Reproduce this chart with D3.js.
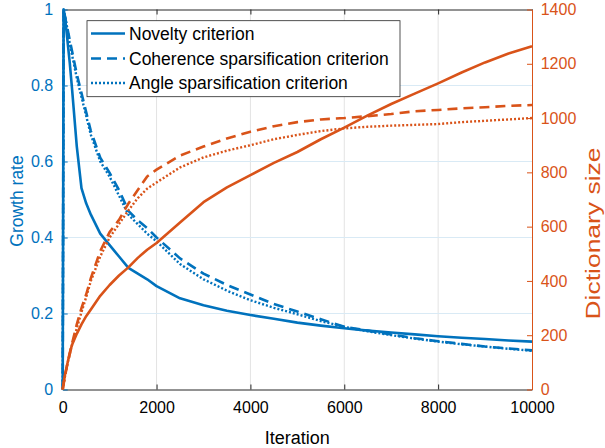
<!DOCTYPE html>
<html><head><meta charset="utf-8">
<script src="https://cdn.jsdelivr.net/npm/d3@7"></script>
<style>body{margin:0;background:#fff}svg{display:block}text{font-family:"Liberation Sans",Arial,Helvetica,sans-serif}</style>
</head><body><svg id="c" width="605" height="448"></svg>
<script>
// ---- data ----
const iterations = [0,20,50,100,150,200,300,400,500,600,800,1000,1200,1400,1600,1800,2000,2500,3000,3500,4000,4500,5000,5500,6000,6500,7000,7500,8000,8500,9000,9500,10000];
const growthNovelty   = [0,1.0,0.98,0.92,0.86,0.79,0.64,0.53,0.49,0.46,0.41,0.38,0.35,0.32,0.305,0.29,0.272,0.24,0.222,0.207,0.196,0.186,0.176,0.168,0.161,0.155,0.150,0.145,0.140,0.136,0.133,0.129,0.126];
const growthCoherence = [0,1.0,0.98,0.95,0.92,0.89,0.83,0.78,0.73,0.68,0.61,0.57,0.525,0.47,0.445,0.425,0.40,0.345,0.305,0.275,0.25,0.225,0.205,0.185,0.165,0.155,0.145,0.135,0.127,0.12,0.113,0.108,0.103];
const growthAngle     = [0,1.0,0.98,0.95,0.91,0.88,0.82,0.77,0.72,0.67,0.60,0.56,0.51,0.46,0.435,0.41,0.39,0.33,0.29,0.26,0.235,0.215,0.198,0.18,0.165,0.153,0.143,0.134,0.126,0.119,0.113,0.107,0.102];
const dictNovelty   = [0,25,55,95,135,165,205,240,270,295,345,385,420,450,485,515,540,615,690,745,790,835,875,922,965,1010,1052,1090,1128,1168,1205,1238,1265];
const dictCoherence = [0,20,50,95,130,170,240,300,350,410,510,580,625,685,735,785,810,862,895,925,950,970,985,995,1000,1007,1015,1025,1030,1036,1040,1045,1048];
const dictAngle     = [0,20,50,95,130,165,225,285,340,400,490,560,610,660,705,740,763,818,855,880,900,922,938,952,962,968,972,975,978,985,990,995,1000];
const seriesNames = ["Novelty criterion","Coherence sparsification criterion","Angle sparsification criterion"];
const xTicks = [0,2000,4000,6000,8000,10000];
const leftTicks = [0,0.2,0.4,0.6,0.8,1];
const rightTicks = [0,200,400,600,800,1000,1200,1400];

// ---- layout ----
const BLUE="#0072BD", ORANGE="#D95319", DARK="#262626";
const L=62.7, R=532, T=9.5, B=389.5;
const svg=d3.select("#c");
const x=d3.scaleLinear().domain([0,10000]).range([L,R]);
const yL=d3.scaleLinear().domain([0,1]).range([B,T]);
const yR=d3.scaleLinear().domain([0,1400]).range([B,T]);

// grid
const g=svg.append("g");
g.selectAll(".vg").data(xTicks.slice(1,-1)).join("line")
  .attr("x1",d=>x(d)).attr("x2",d=>x(d)).attr("y1",T).attr("y2",B)
  .attr("stroke","#e3e3e3").attr("stroke-width",1);
g.selectAll(".hg").data(leftTicks.slice(1,-1)).join("line")
  .attr("x1",L).attr("x2",R).attr("y1",d=>yL(d)).attr("y2",d=>yL(d))
  .attr("stroke","#d9eaf5").attr("stroke-width",1);

// axes
const fs="16px";
const ax=svg.append("g").attr("transform",`translate(0,${B})`)
  .call(d3.axisBottom(x).tickValues(xTicks).tickFormat(d3.format("d")).tickSizeInner(-5).tickSizeOuter(0).tickPadding(12.5));
ax.select(".domain").attr("stroke",DARK);
ax.selectAll(".tick line").attr("stroke",DARK);
ax.selectAll("text").attr("fill","#000").style("font-size",fs);
const axT=svg.append("g").attr("transform",`translate(0,${T})`)
  .call(d3.axisTop(x).tickValues(xTicks).tickFormat("").tickSizeInner(-5).tickSizeOuter(0));
axT.select(".domain").attr("stroke",DARK);
axT.selectAll(".tick line").attr("stroke",DARK);

const ayL=svg.append("g").attr("transform",`translate(${L},0)`)
  .call(d3.axisLeft(yL).tickValues(leftTicks).tickFormat(d=>(d===0||d===1)?String(d):d3.format(".1f")(d)).tickSizeInner(-5).tickSizeOuter(0).tickPadding(9.5));
ayL.select(".domain").attr("stroke",BLUE);
ayL.selectAll(".tick line").attr("stroke",BLUE);
ayL.selectAll("text").attr("fill",BLUE).style("font-size",fs);

const ayR=svg.append("g").attr("transform",`translate(${R},0)`)
  .call(d3.axisRight(yR).tickValues(rightTicks).tickFormat(d3.format("d")).tickSizeInner(-5).tickSizeOuter(0).tickPadding(8.7));
ayR.select(".domain").attr("stroke",ORANGE);
ayR.selectAll(".tick line").attr("stroke",ORANGE);
ayR.selectAll("text").attr("fill",ORANGE).style("font-size",fs);

// axis titles
svg.append("text").attr("x",(L+R)/2).attr("y",444).attr("text-anchor","middle")
  .style("font-size","18px").attr("fill","#000").text("Iteration");
svg.append("text").attr("transform","translate(23,201) rotate(-90)").attr("text-anchor","middle")
  .style("font-size","17.5px").attr("fill",BLUE).text("Growth rate");
svg.append("text").attr("transform","translate(600,233.5) rotate(-90)").attr("text-anchor","middle")
  .style("font-size","20px").attr("textLength",172).attr("lengthAdjust","spacingAndGlyphs").attr("fill",ORANGE).text("Dictionary size");

// lines
const styles=[{dash:null,w:2.6},{dash:"10,6",w:2.6},{dash:"2,2",w:2.4}];
const lineL=d3.line().x((d,i)=>x(iterations[i])).y(d=>yL(d));
const lineR=d3.line().x((d,i)=>x(iterations[i])).y(d=>yR(d));
const blueSeries=[growthNovelty,growthCoherence,growthAngle];
const orangeSeries=[dictNovelty,dictCoherence,dictAngle];
blueSeries.forEach((s,k)=>{
  svg.append("path").attr("d",lineL(s)).attr("fill","none").attr("stroke",BLUE)
    .attr("stroke-width",styles[k].w).attr("stroke-dasharray",styles[k].dash).attr("stroke-linejoin","round");
});
orangeSeries.forEach((s,k)=>{
  svg.append("path").attr("d",lineR(s)).attr("fill","none").attr("stroke",ORANGE)
    .attr("stroke-width",styles[k].w).attr("stroke-dasharray",styles[k].dash).attr("stroke-linejoin","round");
});

// legend
const lg=svg.append("g");
lg.append("rect").attr("x",87).attr("y",20.7).attr("width",313).attr("height",76)
  .attr("fill","#fff").attr("stroke",DARK).attr("stroke-width",0.8);
const rowY=[33.5,58.5,83];
seriesNames.forEach((n,k)=>{
  lg.append("line").attr("x1",91).attr("x2",125).attr("y1",rowY[k]).attr("y2",rowY[k])
    .attr("stroke",BLUE).attr("stroke-width",styles[k].w).attr("stroke-dasharray",styles[k].dash);
  lg.append("text").attr("x",129).attr("y",rowY[k]+6.2).style("font-size","17.5px").attr("fill","#000").text(n);
});
</script></body></html>
